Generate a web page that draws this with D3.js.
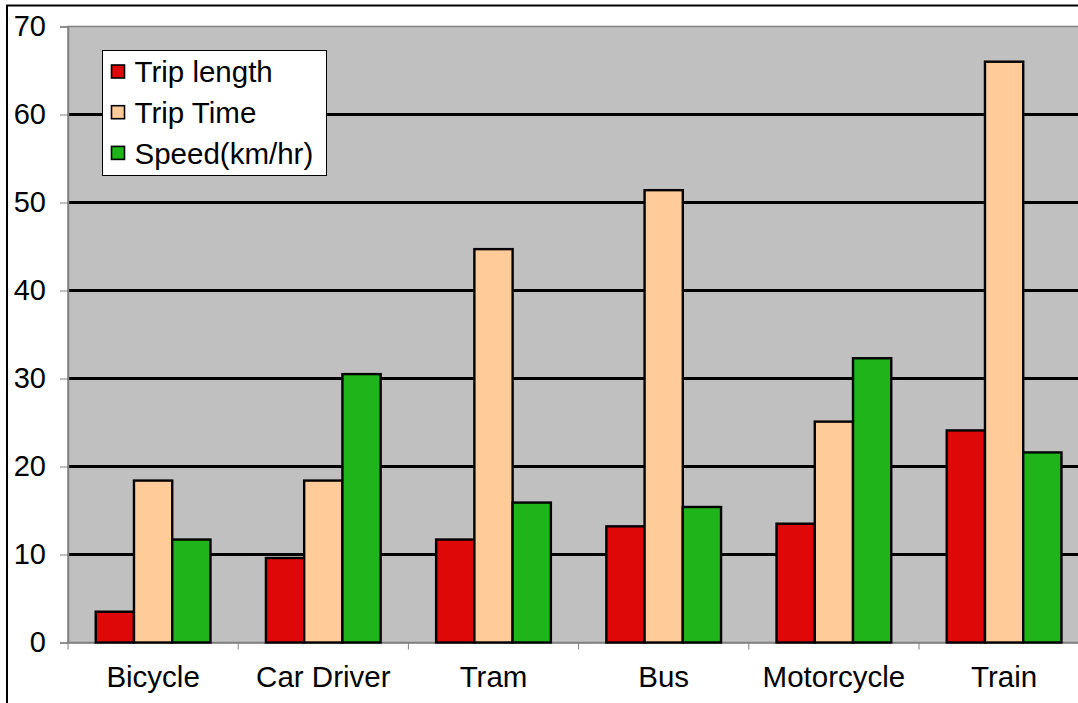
<!DOCTYPE html>
<html>
<head>
<meta charset="utf-8">
<script src="https://cdn.jsdelivr.net/npm/d3@7"></script>
<style>
  html, body { margin: 0; padding: 0; background: #fff; }
  svg { display: block; font-family: "Liberation Sans", Arial, sans-serif; }
</style>
</head>
<body>
<svg id="chart" width="1078" height="703"></svg>
<script>
// Trip characteristics by travel mode
const categories = ["Bicycle", "Car Driver", "Tram", "Bus", "Motorcycle", "Train"];
const seriesNames = ["Trip length", "Trip Time", "Speed(km/hr)"];
const tripLength = [3.5, 9.6, 11.7, 13.2, 13.5, 24.1];
const tripTime = [18.4, 18.4, 44.7, 51.4, 25.1, 66.0];
const speed = [11.7, 30.5, 15.9, 15.4, 32.3, 21.6];
const yTicks = [0, 10, 20, 30, 40, 50, 60, 70];
const colors = ["#de0808", "#ffcc99", "#1fb51a"];

const seriesValues = [tripLength, tripTime, speed];
const rows = categories.map((c, i) => ({
  category: c,
  values: seriesNames.map((s, k) => ({ key: s, value: seriesValues[k][i], color: colors[k] }))
}));

const svg = d3.select("#chart");

// Plot area (extends beyond the right edge of the frame)
const plot = { left: 68, top: 26.5, right: 1089.2, bottom: 642.5 };

const x0 = d3.scaleBand().domain(categories).range([plot.left, plot.right]).padding(0);
const x1 = d3.scaleBand().domain(seriesNames)
  .range([x0.bandwidth() * 0.163, x0.bandwidth() * 0.837]).padding(0);
const y = d3.scaleLinear().domain([0, 70]).range([plot.bottom, plot.top]);

// Outer frame edges
svg.append("line").attr("x1", 7).attr("x2", 7).attr("y1", 5).attr("y2", 703)
  .attr("stroke", "#000").attr("stroke-width", 2);
svg.append("line").attr("x1", 6).attr("x2", 1078).attr("y1", 5.5).attr("y2", 5.5)
  .attr("stroke", "#000").attr("stroke-width", 2);

// Plot background
svg.append("rect")
  .attr("x", plot.left).attr("y", plot.top)
  .attr("width", plot.right - plot.left).attr("height", plot.bottom - plot.top)
  .attr("fill", "#c0c0c0").attr("stroke", "#808080").attr("stroke-width", 1.5);

// Horizontal gridlines
svg.append("g").selectAll("line")
  .data(yTicks.filter(t => t > 0 && t < 70))
  .join("line")
  .attr("x1", plot.left).attr("x2", plot.right)
  .attr("y1", d => y(d)).attr("y2", d => y(d))
  .attr("stroke", "#000").attr("stroke-width", 3);

// Y axis
const yAxis = svg.append("g")
  .attr("transform", `translate(${plot.left},0)`)
  .call(d3.axisLeft(y).tickValues(yTicks).tickSize(8).tickPadding(14).tickFormat(d3.format("d")));
yAxis.select(".domain").attr("stroke", "#808080").attr("stroke-width", 1.5);
yAxis.selectAll(".tick line").attr("stroke", "#808080").attr("stroke-width", 1);
yAxis.selectAll(".tick text")
  .attr("font-size", 29).attr("fill", "#000")
  .attr("font-family", "'Liberation Sans', Arial, sans-serif")
  .attr("dy", "0.3em");

// X axis
const xAxis = svg.append("g")
  .attr("transform", `translate(0,${plot.bottom})`)
  .call(d3.axisBottom(x0).tickSize(0).tickPadding(24));
xAxis.select(".domain").attr("stroke", "#808080").attr("stroke-width", 1.5);
xAxis.selectAll(".tick text")
  .attr("font-size", 29.5).attr("fill", "#000")
  .attr("font-family", "'Liberation Sans', Arial, sans-serif");

// Tick marks between categories
const boundaries = categories.map(c => x0(c)).concat([plot.right]);
svg.append("g").selectAll("line")
  .data(boundaries)
  .join("line")
  .attr("x1", d => d).attr("x2", d => d)
  .attr("y1", plot.bottom).attr("y2", plot.bottom + 7)
  .attr("stroke", "#808080").attr("stroke-width", 1);

// Bars
const groups = svg.append("g").selectAll("g")
  .data(rows)
  .join("g")
  .attr("transform", d => `translate(${x0(d.category)},0)`);

groups.selectAll("rect")
  .data(d => d.values)
  .join("rect")
  .attr("x", d => x1(d.key))
  .attr("width", x1.bandwidth())
  .attr("y", d => y(d.value))
  .attr("height", d => y(0) - y(d.value))
  .attr("fill", d => d.color)
  .attr("stroke", "#000")
  .attr("stroke-width", 2.4);

// Legend
const legend = svg.append("g").attr("transform", "translate(102.5,50.5)");
legend.append("rect")
  .attr("width", 224).attr("height", 125)
  .attr("fill", "#fff").attr("stroke", "#000").attr("stroke-width", 1);

const items = legend.selectAll("g.item")
  .data(seriesNames)
  .join("g")
  .attr("class", "item")
  .attr("transform", (d, i) => `translate(9,${21 + i * 40.7})`);

items.append("rect")
  .attr("x", 0).attr("y", -6.5)
  .attr("width", 13).attr("height", 13)
  .attr("fill", (d, i) => colors[i])
  .attr("stroke", "#000").attr("stroke-width", 1.6);

items.append("text")
  .attr("x", 23).attr("y", 0).attr("dy", "0.36em")
  .attr("font-size", 29.5).attr("fill", "#000")
  .text(d => d);
</script>
</body>
</html>
